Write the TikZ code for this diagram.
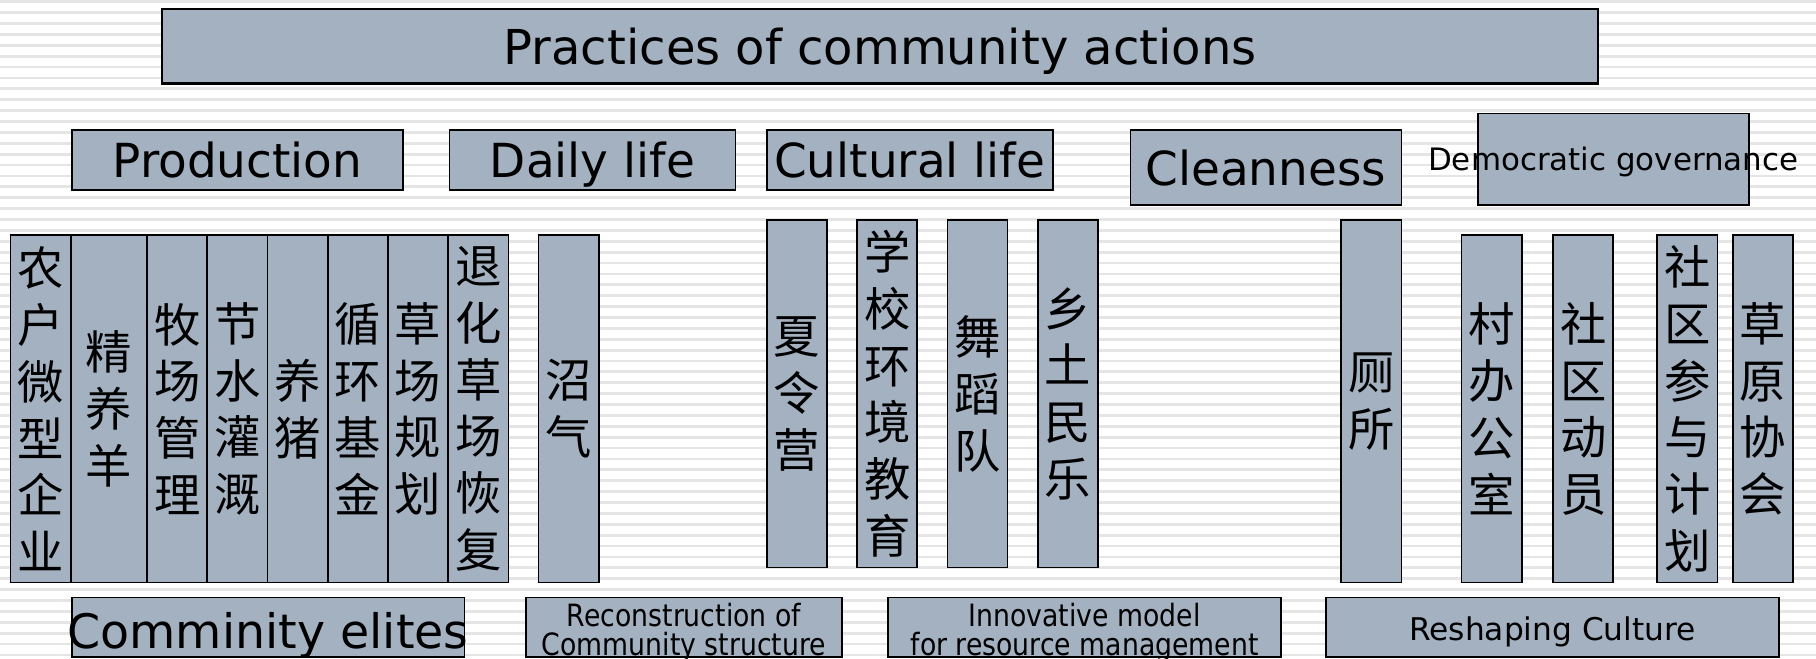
\documentclass[tikz,border=0pt]{standalone}
\usepackage{fontspec}
\setmainfont{DejaVu Sans}
\newfontfamily\narrowfont[FakeStretch=0.87]{DejaVu Sans}
\newfontfamily\cjkfont{Noto Sans CJK SC}
\usetikzlibrary{positioning}
\definecolor{colour_box}{HTML}{A3B1C1}
\colorlet{colour_stripe}{gray!20}

\begin{document}
\begin{tikzpicture}
   [
      x=1pt, y=-1pt,
      box/.style={draw=black, line width=1.5pt, fill=colour_box, inner sep=0pt, outer sep=0pt, align=center},
      head/.style={box, minimum height=52pt, text height=31pt, text depth=0pt, font=\fontsize{40.5}{48}\selectfont},
      column/.style={box, minimum width=52pt, minimum height=300pt, font=\cjkfont\fontsize{40}{49}\selectfont},
      base/.style={box, anchor=north west, minimum height=51pt},
      stripe/.style={line width=2.4pt, colour_stripe},
      label node/.style={text=black, align=center},
   ]

   \useasboundingbox (0,0) rectangle (1568,569);

   % striped background
   \foreach \y in {1.5,10.9,...,569}
      \draw[stripe] (0,\y) -- (1568,\y);

   % =======================================================
   % Title and headings
   % =======================================================

   \node[box, anchor=north west, minimum width=1240pt, minimum height=64pt, line width=2pt, text height=31.5pt, text depth=0pt, font=\fontsize{41.5}{48}\selectfont] (title) at (140,8) {Practices of community actions};

   \node[head, anchor=north west, minimum width=286pt] (production) at (62,112) {Production};
   \node[head, minimum width=247pt, right=40pt of production] (daily) {Daily life};
   \node[head, minimum width=247pt, right=27pt of daily] (cultural) {Cultural life};
   \node[head, anchor=north west, minimum width=234pt, minimum height=65pt] (cleanness) at (976,112) {Cleanness};
   \node[head, anchor=north west, minimum width=234pt, minimum height=79pt] (democracy) at (1276,98) {};
   \node[label node, anchor=base, font=\fontsize{26.7}{32}\selectfont] (democracy_text) at ([yshift=-10pt]democracy.center) {Democratic governance};

   % =======================================================
   % Production and daily life
   % =======================================================

   \node[column, anchor=north west] (p_enterprise) at (9,203) {农\\户\\微\\型\\企\\业};
   \node[column, minimum width=66pt, right=0pt of p_enterprise] (p_sheep) {精\\养\\羊};
   \node[column, right=0pt of p_sheep] (p_pasture) {牧\\场\\管\\理};
   \node[column, right=0pt of p_pasture] (p_irrigation) {节\\水\\灌\\溉};
   \node[column, right=0pt of p_irrigation] (p_pig) {养\\猪};
   \node[column, right=0pt of p_pig] (p_fund) {循\\环\\基\\金};
   \node[column, right=0pt of p_fund] (p_planning) {草\\场\\规\\划};
   \node[column, right=0pt of p_planning] (p_restore) {退\\化\\草\\场\\恢\\复};

   \node[column, right=26pt of p_restore] (d_biogas) {沼\\气};

   % =======================================================
   % Cultural life
   % =======================================================

   \node[column, anchor=north west] (c_camp) at (662,190) {夏\\令\\营};
   \node[column, right=26pt of c_camp] (c_school) {学\\校\\环\\境\\教\\育};
   \node[column, right=26pt of c_school] (c_dance) {舞\\蹈\\队};
   \node[column, right=26pt of c_dance] (c_music) {乡\\土\\民\\乐};

   % =======================================================
   % Cleanness and governance
   % =======================================================

   \node[column, anchor=north west, minimum height=313pt] (toilet) at (1158,190) {厕\\所};

   \node[column, anchor=north west] (g_office) at (1262,203) {村\\办\\公\\室};
   \node[column, right=27pt of g_office] (g_mobilise) {社\\区\\动\\员};
   \node[column, right=38pt of g_mobilise] (g_plan) {社\\区\\参\\与\\计\\划};
   \node[column, right=13pt of g_plan] (g_assoc) {草\\原\\协\\会};

   % =======================================================
   % Bottom row
   % =======================================================

   \node[base, minimum width=339pt] (elites) at (62,516) {};
   \node[base, minimum width=273pt] (recon) at (454,516) {};
   \node[base, minimum width=339pt] (model) at (767,516) {};
   \node[base, minimum width=391pt] (culture) at (1145,516) {};

   \node[label node, anchor=base, font=\fontsize{41}{48}\selectfont] (elites_text) at ([yshift=-18.5pt]elites.center) {Comminity elites};
   \node[label node, font=\narrowfont\fontsize{26.5}{24.5}\selectfont] (recon_text) at ([yshift=-4.8pt]recon.center) {Reconstruction of\\Community structure};
   \node[label node, font=\narrowfont\fontsize{26.5}{24.5}\selectfont] (model_text) at ([yshift=-4.8pt]model.center) {Innovative model\\for resource management};
   \node[label node, anchor=base, font=\fontsize{27}{32}\selectfont] (culture_text) at ([yshift=-11.5pt]culture.center) {Reshaping Culture};

\end{tikzpicture}
\end{document}
